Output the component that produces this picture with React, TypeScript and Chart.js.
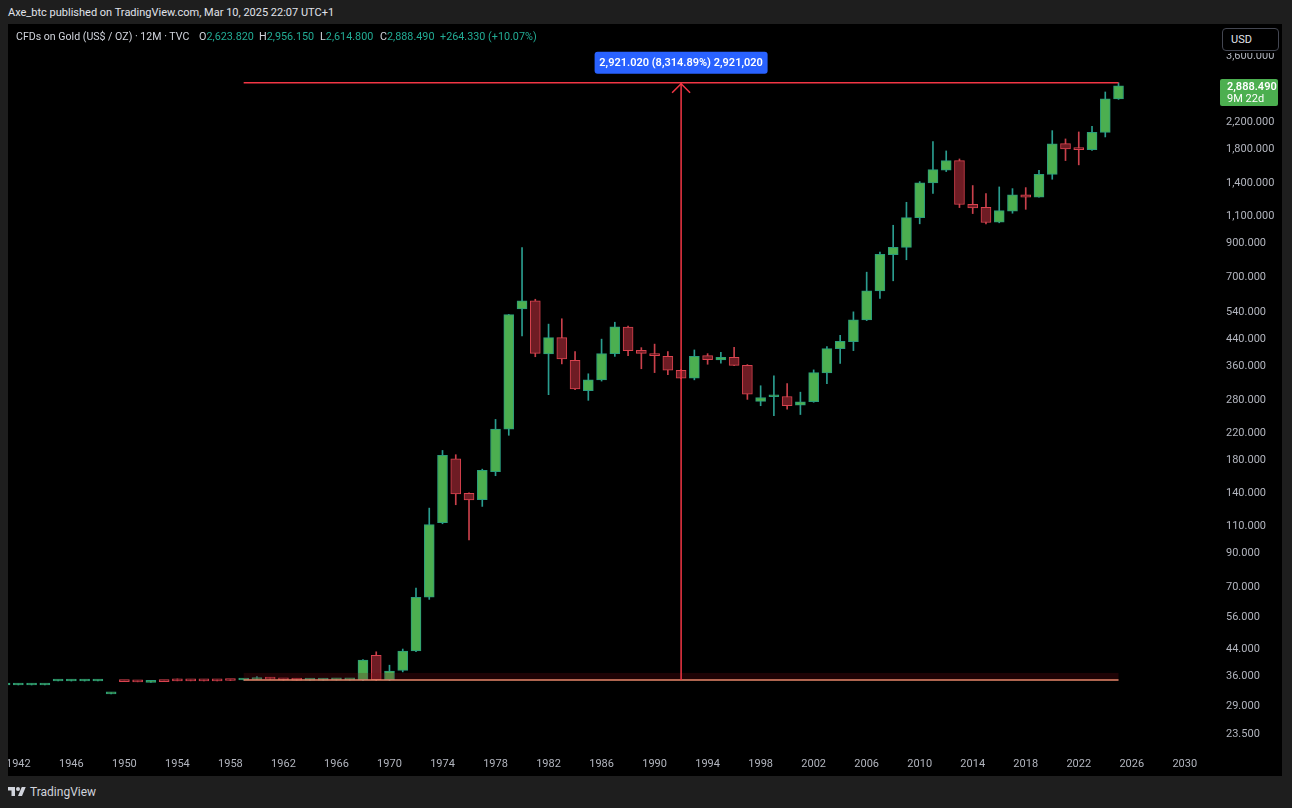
import React, { useEffect, useRef } from 'react';
import { Chart, registerables } from 'chart.js';

Chart.register(...registerables);

// ---------- data ----------
const YEARS = [
  1941, 1942, 1943, 1944, 1945, 1946, 1947, 1948, 1949, 1950,
  1951, 1952, 1953, 1954, 1955, 1956, 1957, 1958, 1959, 1960,
  1961, 1962, 1963, 1964, 1965, 1966, 1967, 1968, 1969, 1970,
  1971, 1972, 1973, 1974, 1975, 1976, 1977, 1978, 1979, 1980,
  1981, 1982, 1983, 1984, 1985, 1986, 1987, 1988, 1989, 1990,
  1991, 1992, 1993, 1994, 1995, 1996, 1997, 1998, 1999, 2000,
  2001, 2002, 2003, 2004, 2005, 2006, 2007, 2008, 2009, 2010,
  2011, 2012, 2013, 2014, 2015, 2016, 2017, 2018, 2019, 2020,
  2021, 2022, 2023, 2024, 2025,
];

const OPEN = [
  33.85, 33.85, 33.85, 33.85, 34.85, 34.85, 34.85, 34.85, 31.7, 34.75,
  34.75, 34.5, 34.8, 35.0, 35.0, 35.0, 35.0, 35.1, 35.13, 35.25,
  35.6, 35.35, 35.15, 35.1, 35.1, 35.15, 35.15, 35.2, 42.2, 35.2,
  37.7, 43.6, 64.9, 113.0, 181.5, 140.3, 134.0, 165.0, 226.0, 552.0,
  586.0, 395.0, 446.0, 377.0, 301.0, 326.0, 396.0, 482.0, 406.0, 396.0,
  388.0, 350.0, 330.0, 390.0, 378.0, 385.0, 363.0, 278.0, 287.5, 288.0,
  270.0, 277.0, 343.0, 411.0, 433.0, 509.0, 631.0, 825.0, 872.0, 1087.0,
  1407.0, 1547.0, 1660.0, 1200.0, 1174.0, 1050.0, 1141.0, 1287.0, 1264.0, 1499.0,
  1882.0, 1812.0, 1800.0, 2047.0, 2623.82,
];

const HIGH = [
  33.85, 33.85, 33.85, 33.85, 34.85, 34.85, 34.85, 34.85, 31.7, 34.75,
  34.75, 34.6, 34.8, 35.4, 35.0, 35.0, 35.0, 35.1, 35.3, 36.0,
  35.7, 35.4, 35.2, 35.2, 35.2, 35.2, 35.2, 40.9, 43.3, 39.2,
  44.2, 69.5, 125.8, 193.0, 187.0, 141.0, 168.0, 243.0, 530.0, 870.0,
  593.0, 493.0, 513.0, 402.0, 341.0, 441.0, 500.0, 486.0, 414.0, 425.0,
  402.0, 352.0, 407.0, 396.0, 400.0, 415.0, 365.0, 312.0, 336.0, 317.0,
  297.5, 351.0, 417.0, 454.0, 540.0, 725.0, 841.0, 1027.0, 1218.0, 1420.0,
  1911.0, 1783.0, 1680.0, 1379.0, 1299.0, 1365.0, 1348.0, 1358.0, 1544.0, 2073.0,
  1949.0, 2053.0, 2140.0, 2762.0, 2956.15,
];

const LOW = [
  33.85, 33.85, 33.85, 33.85, 34.85, 34.85, 34.85, 34.85, 31.7, 34.7,
  34.65, 34.5, 34.7, 34.9, 34.9, 34.9, 34.9, 35.0, 35.1, 35.2,
  35.3, 35.1, 35.1, 35.1, 35.1, 35.1, 35.1, 35.0, 35.0, 35.0,
  37.3, 43.3, 63.9, 112.0, 129.0, 99.3, 127.4, 160.0, 216.0, 452.0,
  387.0, 292.0, 367.0, 303.0, 280.0, 323.0, 388.0, 390.0, 354.0, 344.0,
  339.0, 329.0, 326.0, 366.0, 369.0, 362.0, 282.0, 269.0, 250.0, 262.0,
  252.0, 276.0, 317.0, 368.0, 405.0, 506.0, 597.0, 680.0, 795.0, 1038.0,
  1302.0, 1530.0, 1171.0, 1120.0, 1038.0, 1046.0, 1123.0, 1156.0, 1264.0, 1445.0,
  1660.0, 1608.0, 1790.0, 1978.0, 2614.8,
];

const CLOSE = [
  33.85, 33.85, 33.85, 33.85, 34.85, 34.85, 34.85, 34.85, 31.7, 34.7,
  34.65, 34.6, 34.7, 34.9, 34.9, 34.9, 34.9, 35.0, 35.25, 35.6,
  35.35, 35.15, 35.1, 35.1, 35.15, 35.15, 35.2, 40.7, 35.2, 37.5,
  43.5, 64.9, 111.3, 186.0, 139.7, 133.6, 166.4, 226.0, 529.0, 586.0,
  397.0, 446.0, 381.0, 305.0, 326.0, 396.0, 483.0, 405.0, 397.0, 390.0,
  350.0, 330.0, 388.0, 379.0, 385.0, 363.0, 293.0, 286.0, 288.5, 269.0,
  277.0, 344.0, 411.0, 433.5, 509.0, 631.0, 828.0, 872.0, 1087.0, 1407.0,
  1552.0, 1660.0, 1198.0, 1168.0, 1048.0, 1145.0, 1287.0, 1264.0, 1499.0, 1878.0,
  1810.0, 1800.0, 2047.0, 2624.0, 2888.49,
];

const YEAR_TICKS = [
  1942, 1946, 1950, 1954, 1958, 1962, 1966, 1970, 1974, 1978, 1982, 1986,
  1990, 1994, 1998, 2002, 2006, 2010, 2014, 2018, 2022, 2026, 2030,
];

const PRICE_TICKS = [
  23.5, 29, 36, 44, 56, 70, 90, 110, 140, 180, 220, 280, 360, 440, 540, 700,
  900, 1100, 1400, 1800, 2200, 3600,
];

const X_MIN = 1941.22;
const X_MAX = 2032.58;
const Y_MIN = 21.2;
const Y_MAX = 4575;

const MEASURE_FROM = 1959;
const MEASURE_TO = 2025;
const MEASURE_LOW = 35.13;
const MEASURE_HIGH = 2956.15;
const MEASURE_LABEL = '2,921.020 (8,314.89%) 2,921,020';

const LAST_PRICE = 2888.49;
const LAST_PRICE_LABEL = '2,888.490';
const COUNTDOWN_LABEL = '9M 22d';

const HEADER_TEXT = 'Axe_btc published on TradingView.com, Mar 10, 2025 22:07 UTC+1';
const SYMBOL_TEXT = 'CFDs on Gold (US$ / OZ) · 12M · TVC';
const OHLC_TEXT = [
  { k: 'O', v: '2,623.820', left: 199 },
  { k: 'H', v: '2,956.150', left: 259 },
  { k: 'L', v: '2,614.800', left: 320 },
  { k: 'C', v: '2,888.490', left: 380 },
];
const CHANGE_TEXT = '+264.330 (+10.07%)';

// ---------- styles ----------
const UP_FILL = '#4caf50';
const UP_BORDER = '#2a9d7c';
const UP_WICK = '#2a9d8f';
const DOWN_FILL = '#6e1c24';
const DOWN_BORDER = '#d9434f';
const DOWN_WICK = '#c9404b';
const MEASURE_COLOR = '#f23645';
const TEXT_COLOR = '#b2b5be';
const FONT = 'Roboto, "Liberation Sans", sans-serif';

const CANVAS_W = 1274;
const CANVAS_H = 752;

const fmtPrice = (v: number) =>
  Number(v).toLocaleString('en-US', { minimumFractionDigits: 3, maximumFractionDigits: 3 });

const overlayPlugin = {
  id: 'overlay',
  afterDatasetsDraw(chart: any) {
    const { ctx } = chart;
    const x = chart.scales.x;
    const y = chart.scales.y;
    const x0 = x.getPixelForValue(MEASURE_FROM);
    const x1 = x.getPixelForValue(MEASURE_TO);
    const yTop = y.getPixelForValue(MEASURE_HIGH);
    const yBot = y.getPixelForValue(MEASURE_LOW);
    const xm = (x0 + x1) / 2;
    ctx.save();
    // faint band above the base line
    ctx.fillStyle = 'rgba(120, 10, 20, 0.25)';
    ctx.fillRect(x0, yBot - 7, x1 - x0, 7);
    // bottom line
    ctx.strokeStyle = '#e8876a';
    ctx.lineWidth = 1.5;
    ctx.beginPath();
    ctx.moveTo(x0, yBot);
    ctx.lineTo(x1, yBot);
    ctx.stroke();
    // top line
    ctx.strokeStyle = MEASURE_COLOR;
    ctx.beginPath();
    ctx.moveTo(x0, yTop);
    ctx.lineTo(x1, yTop);
    ctx.stroke();
    // vertical with arrow
    ctx.lineWidth = 1.5;
    ctx.beginPath();
    ctx.moveTo(xm, yBot);
    ctx.lineTo(xm, yTop);
    ctx.stroke();
    ctx.beginPath();
    ctx.moveTo(xm - 9, yTop + 10);
    ctx.lineTo(xm, yTop + 1);
    ctx.lineTo(xm + 9, yTop + 10);
    ctx.stroke();
    // label
    const w = 173;
    const h = 22;
    const bx = xm - w / 2;
    const by = yTop - 31;
    ctx.fillStyle = '#2962ff';
    ctx.beginPath();
    (ctx as any).roundRect(bx, by, w, h, 3);
    ctx.fill();
    ctx.fillStyle = '#ffffff';
    ctx.font = `600 11px ${FONT}`;
    ctx.textAlign = 'center';
    ctx.textBaseline = 'middle';
    ctx.fillText(MEASURE_LABEL, xm, by + h / 2 + 0.5);
    ctx.restore();
  },
  afterDraw(chart: any) {
    const { ctx } = chart;
    const y = chart.scales.y;
    const area = chart.chartArea;
    const yc = y.getPixelForValue(LAST_PRICE);
    ctx.save();
    const bx = area.right + 1;
    const by = yc - 7;
    ctx.fillStyle = '#4caf50';
    ctx.beginPath();
    (ctx as any).roundRect(bx, by, 58, 27, 2);
    ctx.fill();
    ctx.fillStyle = '#ffffff';
    ctx.textAlign = 'left';
    ctx.textBaseline = 'middle';
    ctx.font = `600 11px ${FONT}`;
    ctx.fillText(LAST_PRICE_LABEL, bx + 7, yc + 1);
    ctx.font = `11px ${FONT}`;
    ctx.fillText(COUNTDOWN_LABEL, bx + 7, yc + 13);
    ctx.restore();
  },
};

export default function App() {
  const canvasRef = useRef<HTMLCanvasElement | null>(null);

  useEffect(() => {
    if (!canvasRef.current) return;
    const up = YEARS.map((_, i) => CLOSE[i] >= OPEN[i]);
    const chart = new Chart(canvasRef.current, {
      type: 'bar',
      data: {
        datasets: [
          {
            label: 'body',
            order: 0,
            data: YEARS.map((yr, i) => ({ x: yr, y: [OPEN[i], CLOSE[i]] })) as any,
            backgroundColor: up.map((u) => (u ? UP_FILL : DOWN_FILL)),
            borderColor: up.map((u) => (u ? UP_BORDER : DOWN_BORDER)),
            borderWidth: 1,
            borderSkipped: false,
            barThickness: 10,
            minBarLength: 2,
            grouped: false,
          } as any,
          {
            label: 'wick',
            order: 1,
            data: YEARS.map((yr, i) => ({ x: yr, y: [LOW[i], HIGH[i]] })) as any,
            backgroundColor: up.map((u) => (u ? UP_WICK : DOWN_WICK)),
            borderWidth: 0,
            barThickness: 1,
            minBarLength: 1,
            grouped: false,
          } as any,
        ],
      },
      options: {
        responsive: false,
        animation: false,
        events: [],
        layout: { padding: 0 },
        plugins: {
          legend: { display: false },
          tooltip: { enabled: false },
        },
        scales: {
          x: {
            type: 'linear',
            min: X_MIN,
            max: X_MAX,
            offset: false,
            grid: { display: false, drawTicks: false },
            border: { display: false },
            ticks: {
              color: TEXT_COLOR,
              font: { family: FONT, size: 11 },
              padding: 10,
              autoSkip: false,
              maxRotation: 0,
              minRotation: 0,
              callback: (v: any) => String(v),
            },
            afterBuildTicks: (axis: any) => {
              axis.ticks = YEAR_TICKS.map((v) => ({ value: v }));
            },
            afterFit: (axis: any) => {
              axis.height = 28;
              axis.paddingLeft = 0;
              axis.paddingRight = 0;
            },
          },
          y: {
            type: 'logarithmic',
            position: 'right',
            min: Y_MIN,
            max: Y_MAX,
            grid: { display: false, drawTicks: false },
            border: { display: false },
            ticks: {
              color: TEXT_COLOR,
              font: { family: FONT, size: 11 },
              padding: 7,
              autoSkip: false,
              callback: (v: any) => fmtPrice(v),
            },
            afterBuildTicks: (axis: any) => {
              axis.ticks = PRICE_TICKS.map((v) => ({ value: v }));
            },
            afterFit: (axis: any) => {
              axis.width = 63;
              axis.paddingTop = 0;
              axis.paddingBottom = 0;
            },
          },
        },
      } as any,
      plugins: [overlayPlugin],
    });
    return () => chart.destroy();
  }, []);

  return (
    <div
      style={{
        position: 'fixed',
        left: 0,
        top: 0,
        width: 1292,
        height: 808,
        background: '#1e1e1e',
        overflow: 'hidden',
        fontFamily: FONT,
      }}
    >
      <div
        style={{
          position: 'absolute',
          left: 8,
          top: 5,
          fontSize: 11,
          color: '#e0e3eb',
          whiteSpace: 'nowrap',
          lineHeight: '16px',
        }}
      >
        {HEADER_TEXT}
      </div>
      <div
        style={{
          position: 'absolute',
          left: 8,
          top: 24,
          width: CANVAS_W,
          height: CANVAS_H,
          background: '#000000',
        }}
      >
        <canvas
          ref={canvasRef}
          width={CANVAS_W}
          height={CANVAS_H}
          style={{ display: 'block', width: CANVAS_W, height: CANVAS_H }}
        />
        <div
          style={{
            position: 'absolute',
            left: 8,
            top: 5,
            fontSize: 10.6,
            lineHeight: '16px',
            color: '#d1d4dc',
            whiteSpace: 'nowrap',
          }}
        >
          {SYMBOL_TEXT}
        </div>
        {OHLC_TEXT.map((o) => (
          <div
            key={o.k}
            style={{
              position: 'absolute',
              left: o.left - 8,
              top: 5,
              fontSize: 10.8,
              lineHeight: '16px',
              whiteSpace: 'nowrap',
            }}
          >
            <span style={{ color: '#d1d4dc' }}>{o.k}</span>
            <span style={{ color: '#22ab94' }}>{o.v}</span>
          </div>
        ))}
        <div
          style={{
            position: 'absolute',
            left: 432,
            top: 5,
            fontSize: 10.8,
            lineHeight: '16px',
            color: '#22ab94',
            whiteSpace: 'nowrap',
          }}
        >
          {CHANGE_TEXT}
        </div>
        <div
          style={{
            position: 'absolute',
            left: 1204,
            top: 0,
            width: 70,
            height: 29,
            background: '#000000',
          }}
        />
        <div
          style={{
            position: 'absolute',
            left: 1214,
            top: 4,
            width: 57,
            height: 23,
            boxSizing: 'border-box',
            border: '1px solid #434651',
            borderRadius: 4,
            background: '#000000',
            color: '#e0e3eb',
            fontSize: 11,
            lineHeight: '21px',
            paddingLeft: 8,
          }}
        >
          USD
        </div>
      </div>
      <div
        style={{
          position: 'absolute',
          left: 8,
          top: 784,
          display: 'flex',
          alignItems: 'center',
          gap: 4,
          color: '#d1d4dc',
          fontSize: 12,
          lineHeight: '16px',
        }}
      >
        <svg width="18" height="14" viewBox="0 0 36 28">
          <path d="M14 22H7V11H0V4h14v18zM28 22h-8l7.5-18h8L28 22z" fill="#d1d4dc" />
          <circle cx="20" cy="8" r="4" fill="#d1d4dc" />
        </svg>
        <span>TradingView</span>
      </div>
    </div>
  );
}
